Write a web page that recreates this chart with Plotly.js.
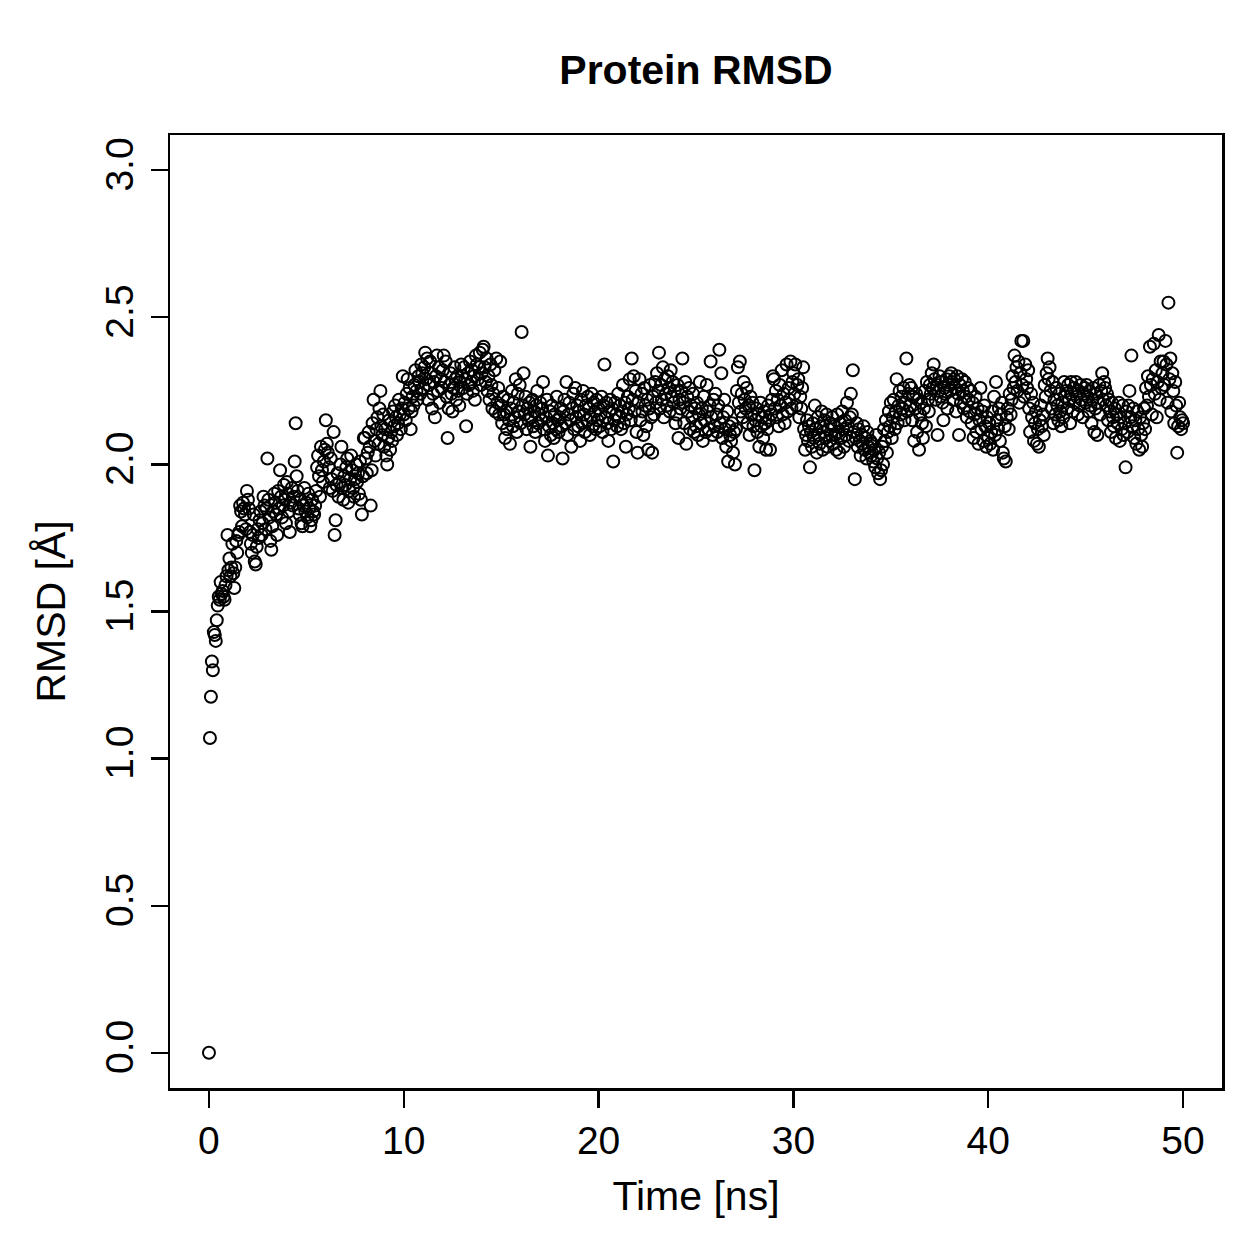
<!DOCTYPE html>
<html>
<head>
<meta charset="utf-8">
<script src="https://cdn.plot.ly/plotly-3.0.1.min.js"></script>
<style>html,body{margin:0;padding:0;background:#fff;}#chart{width:1259px;height:1259px;}</style>
</head>
<body>
<div id="chart"></div>
<script>
// Sampling interval of the trajectory (ns)
const timeStep = 0.05;
// RMSD values (Å), one per frame
const rmsd = [
0.00,1.07,1.21,1.33,1.30,1.43,1.42,1.40,1.47,1.52,1.55,1.54,1.60,1.56,1.57,1.55,1.54,1.59,1.62,1.76,
1.64,1.68,1.62,1.65,1.73,1.63,1.58,1.65,1.74,1.70,1.76,1.77,1.86,1.84,1.79,1.87,1.85,1.83,1.78,1.91,
1.88,1.85,1.77,1.73,1.70,1.76,1.83,1.67,1.66,1.72,1.78,1.75,1.81,1.84,1.76,1.80,1.89,1.86,1.78,1.85,
2.02,1.88,1.82,1.74,1.71,1.79,1.84,1.90,1.87,1.83,1.76,1.91,1.85,1.98,1.89,1.82,1.86,1.93,1.88,1.80,
1.94,1.90,1.84,1.77,1.87,1.92,1.86,1.89,2.01,2.14,1.96,1.91,1.85,1.83,1.88,1.80,1.79,1.86,1.92,1.84,
1.87,1.82,1.90,1.85,1.79,1.81,1.88,1.84,1.83,1.86,1.91,1.99,2.03,1.96,1.89,2.06,1.98,1.94,2.01,2.05,
2.15,2.07,2.04,1.99,1.92,2.02,1.95,1.91,2.11,1.76,1.81,1.93,1.97,1.89,1.94,2.00,2.06,1.92,1.88,1.96,
1.93,1.99,2.02,1.87,1.91,1.95,2.03,1.98,1.92,1.89,1.95,2.00,1.94,1.97,1.90,2.01,1.88,1.83,1.96,2.09,
2.09,2.02,1.97,2.04,2.11,2.06,1.86,1.98,2.14,2.22,2.08,2.03,2.12,2.16,2.07,2.19,2.25,2.13,2.10,2.17,
2.06,2.12,2.03,2.00,2.09,2.15,2.05,2.11,2.08,2.18,2.13,2.20,2.16,2.10,2.14,2.22,2.17,2.12,2.19,2.30,
2.17,2.21,2.15,2.24,2.29,2.19,2.26,2.12,2.18,2.23,2.20,2.27,2.32,2.25,2.22,2.30,2.28,2.24,2.34,2.31,
2.26,2.33,2.38,2.29,2.36,2.22,2.27,2.35,2.31,2.19,2.24,2.28,2.16,2.30,2.37,2.25,2.33,2.21,2.29,2.26,
2.32,2.37,2.28,2.35,2.23,2.09,2.19,2.27,2.31,2.24,2.18,2.26,2.33,2.29,2.22,2.30,2.25,2.20,2.28,2.34,
2.30,2.26,2.33,2.29,2.13,2.24,2.31,2.27,2.35,2.28,2.32,2.25,2.30,2.22,2.37,2.34,2.29,2.33,2.38,2.27,
2.31,2.39,2.40,2.33,2.28,2.36,2.25,2.30,2.22,2.34,2.27,2.19,2.24,2.32,2.18,2.36,2.21,2.26,2.17,2.35,
2.20,2.14,2.23,2.17,2.09,2.18,2.12,2.22,2.15,2.07,2.19,2.25,2.13,2.21,2.16,2.29,2.11,2.24,2.18,2.27,
2.14,2.45,2.20,2.31,2.17,2.23,2.12,2.19,2.15,2.21,2.06,2.16,2.22,2.13,2.18,2.11,2.20,2.25,2.14,2.17,
2.21,2.15,2.19,2.28,2.12,2.08,2.16,2.22,2.03,2.13,2.18,2.10,2.20,2.14,2.09,2.17,2.12,2.23,2.15,2.11,
2.16,2.19,2.13,2.02,2.18,2.22,2.14,2.28,2.10,2.17,2.21,2.15,2.06,2.19,2.24,2.12,2.26,2.16,2.20,2.13,
2.18,2.08,2.22,2.14,2.25,2.17,2.11,2.20,2.15,2.23,2.19,2.10,2.16,2.24,2.13,2.21,2.18,2.12,2.22,2.15,
2.19,2.13,2.17,2.23,2.11,2.20,2.34,2.16,2.21,2.14,2.08,2.18,2.22,2.12,2.19,2.01,2.15,2.21,2.17,2.13,
2.24,2.16,2.20,2.12,2.18,2.27,2.14,2.21,2.06,2.17,2.23,2.19,2.29,2.15,2.36,2.22,2.30,2.18,2.25,2.11,
2.04,2.21,2.29,2.15,2.24,2.18,2.10,2.26,2.20,2.13,2.22,2.05,2.19,2.27,2.16,2.04,2.23,2.17,2.28,2.21,
2.31,2.25,2.38,2.19,2.27,2.22,2.33,2.16,2.29,2.24,2.20,2.30,2.26,2.18,2.32,2.23,2.28,2.21,2.25,2.14,
2.17,2.27,2.09,2.22,2.19,2.25,2.36,2.21,2.14,2.28,2.07,2.23,2.18,2.26,2.12,2.20,2.16,2.24,2.11,2.19,
2.13,2.21,2.10,2.17,2.28,2.14,2.19,2.08,2.23,2.15,2.11,2.27,2.18,2.12,2.20,2.35,2.16,2.10,2.22,2.13,
2.24,2.17,2.11,2.20,2.39,2.14,2.31,2.09,2.16,2.22,2.12,2.06,2.18,2.01,2.13,2.10,2.08,2.14,2.04,2.11,
2.00,2.12,2.25,2.33,2.21,2.35,2.18,2.24,2.16,2.28,2.22,2.19,2.26,2.14,2.20,2.10,2.23,2.17,2.21,2.13,
1.98,2.15,2.19,2.11,2.17,2.06,2.21,2.13,2.16,2.09,2.18,2.14,2.05,2.12,2.20,2.15,2.05,2.17,2.22,2.30,
2.29,2.19,2.25,2.16,2.22,2.13,2.27,2.20,2.32,2.17,2.24,2.14,2.21,2.34,2.18,2.26,2.22,2.35,2.19,2.28,
2.31,2.24,2.34,2.20,2.27,2.29,2.16,2.23,2.19,2.26,2.33,2.12,2.05,2.10,2.15,2.08,2.13,1.99,2.11,2.06,
2.14,2.09,2.20,2.12,2.04,2.16,2.10,2.07,2.13,2.18,2.05,2.11,2.15,2.09,2.17,2.06,2.12,2.08,2.14,2.10,
2.16,2.07,2.13,2.10,2.05,2.17,2.11,2.04,2.14,2.09,2.18,2.12,2.06,2.15,2.10,2.21,2.13,2.08,2.16,2.24,
2.17,2.32,2.11,1.95,2.09,2.14,2.06,2.12,2.08,2.03,2.10,2.07,2.13,2.05,2.09,2.02,2.11,2.06,2.04,2.08,
2.03,2.07,2.01,2.05,1.99,2.10,2.02,1.97,2.04,1.95,1.98,2.06,2.00,2.12,2.08,2.15,2.04,2.11,2.18,2.13,
2.21,2.09,2.16,2.22,2.12,2.18,2.29,2.14,2.20,2.25,2.17,2.23,2.19,2.26,2.15,2.21,2.36,2.18,2.24,2.27,
2.20,2.26,2.15,2.23,2.08,2.19,2.24,2.11,2.22,2.05,2.17,2.21,2.14,2.09,2.19,2.25,2.13,2.28,2.22,2.18,
2.27,2.24,2.31,2.26,2.34,2.29,2.22,2.27,2.10,2.25,2.30,2.23,2.28,2.21,2.15,2.26,2.24,2.29,2.19,2.27,
2.30,2.25,2.31,2.28,2.22,2.29,2.26,2.18,2.30,2.24,2.10,2.27,2.21,2.29,2.25,2.19,2.28,2.23,2.16,2.26,
2.22,2.18,2.25,2.14,2.21,2.09,2.17,2.23,2.11,2.19,2.07,2.15,2.26,2.12,2.18,2.08,2.20,2.13,2.06,2.16,
2.09,2.14,2.07,2.11,2.18,2.05,2.23,2.10,2.28,2.15,2.12,2.19,2.08,2.17,2.21,2.04,2.02,2.13,2.01,2.16,
2.19,2.12,2.24,2.17,2.22,2.30,2.26,2.37,2.28,2.33,2.25,2.35,2.21,2.31,2.42,2.27,2.42,2.23,2.34,2.29,
2.26,2.32,2.19,2.11,2.24,2.16,2.21,2.08,2.14,2.18,2.07,2.12,2.06,2.15,2.20,2.13,2.17,2.10,2.27,2.23,
2.31,2.36,2.29,2.33,2.25,2.19,2.28,2.14,2.22,2.17,2.26,2.20,2.15,2.24,2.18,2.13,2.21,2.16,2.28,2.23,
2.25,2.19,2.27,2.22,2.14,2.28,2.24,2.18,2.26,2.21,2.28,2.23,2.17,2.25,2.20,2.27,2.22,2.16,2.24,2.26,
2.21,2.27,2.23,2.18,2.25,2.20,2.14,2.22,2.26,2.11,2.19,2.24,2.10,2.21,2.27,2.17,2.25,2.31,2.22,2.28,
2.26,2.20,2.24,2.15,2.22,2.18,2.11,2.21,2.16,2.13,2.19,2.09,2.17,2.14,2.21,2.08,2.16,2.12,2.20,2.10,
2.14,1.99,2.18,2.11,2.20,2.25,2.16,2.37,2.13,2.19,2.09,2.15,2.07,2.18,2.12,2.05,2.16,2.10,2.06,2.14,
2.19,2.12,2.26,2.20,2.30,2.23,2.40,2.27,2.17,2.29,2.41,2.24,2.32,2.16,2.28,2.44,2.22,2.35,2.26,2.31,
2.35,2.27,2.42,2.34,2.21,2.55,2.29,2.36,2.18,2.31,2.25,2.14,2.28,2.20,2.04,2.13,2.21,2.16,2.12,2.15,
2.14
];
// Frame times (ns) on the regular sampling grid
const time = rmsd.map((_, i) => Math.round(i * timeStep * 100) / 100);

const xTicks = [0, 10, 20, 30, 40, 50];
const yTicks = [0.0, 0.5, 1.0, 1.5, 2.0, 2.5, 3.0];
const yTickLabels = ["0.0", "0.5", "1.0", "1.5", "2.0", "2.5", "3.0"];

const FONT = "Liberation Sans, Arial, Helvetica, sans-serif";

const trace = {
  x: time, y: rmsd, type: "scatter", mode: "markers",
  marker: { symbol: "circle-open", size: 12, color: "#000", line: { width: 2.0, color: "#000" } },
  hoverinfo: "x+y"
};

const layout = {
  width: 1259, height: 1259,
  margin: { l: 170, r: 37, t: 135, b: 171, pad: 0 },
  paper_bgcolor: "#fff", plot_bgcolor: "#fff",
  showlegend: false,
  font: { family: FONT, color: "#000", size: 40 },
  title: { text: "<b>Protein RMSD</b>", font: { family: FONT, size: 41, color: "#000" },
           x: 0.5528, xanchor: "center", xref: "container", y: 1 - 70/1259, yanchor: "middle", yref: "container" },
  xaxis: {
    range: [-2, 52], tickmode: "array", tickvals: xTicks, ticktext: xTicks.map(String),
    ticks: "outside", ticklen: 17, tickwidth: 2.2, tickcolor: "#000",
    showline: true, linewidth: 2.5, linecolor: "#000", mirror: true,
    showgrid: false, zeroline: false,
    tickfont: { family: FONT, size: 39, color: "#000" },
    ticklabelstandoff: 0,
    title: { text: "Time [ns]", font: { family: FONT, size: 41, color: "#000" }, standoff: 20 },
    automargin: false
  },
  yaxis: {
    range: [-0.12, 3.12], tickmode: "array", tickvals: yTicks, ticktext: yTickLabels,
    ticks: "outside", ticklen: 17, tickwidth: 2.2, tickcolor: "#000", tickangle: -90,
    showline: true, linewidth: 2.5, linecolor: "#000", mirror: true,
    showgrid: false, zeroline: false,
    tickfont: { family: FONT, size: 39, color: "#000" },
    ticklabelstandoff: 2,
    title: { text: "RMSD [Å]", font: { family: FONT, size: 41, color: "#000" }, standoff: 20 },
    automargin: false
  }
};

Plotly.newPlot("chart", [trace], layout, { staticPlot: true, displayModeBar: false });
</script>
</body>
</html>
